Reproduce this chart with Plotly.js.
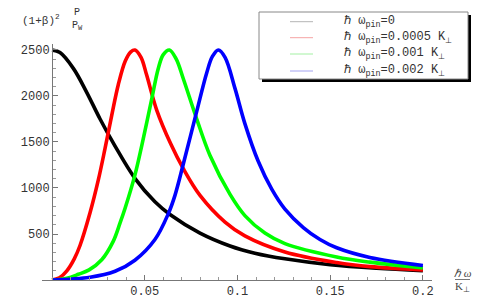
<!DOCTYPE html>
<html>
<head>
<meta charset="utf-8">
<script src="https://cdn.plot.ly/plotly-3.0.1.min.js"></script>
<style>html,body{margin:0;padding:0;background:#fff;}#chart{width:490px;height:303px;}</style>
</head>
<body>
<div id="chart"></div>
<script>
// ---- data ----
const blackW = [0, 0.0043, 0.0115, 0.0187, 0.0259, 0.034, 0.0447, 0.0555, 0.0636, 0.0798, 0.096, 0.1094, 0.1256, 0.15, 0.175, 0.2];
const blackV = [2500, 2472, 2300, 2040, 1750, 1455, 1105, 850, 712, 510, 370, 292, 230, 166, 127, 101];

const redW = [0, 0.004, 0.008, 0.012, 0.0151, 0.0205, 0.025, 0.0286, 0.0322, 0.0357, 0.0395, 0.0425, 0.0447, 0.048, 0.051, 0.0564, 0.064, 0.0708, 0.0798, 0.0933, 0.104, 0.1256, 0.1535, 0.1714, 0.2];
const redV = [0, 25, 100, 230, 375, 730, 1090, 1430, 1790, 2120, 2380, 2480, 2500, 2420, 2230, 1850, 1480, 1210, 920, 630, 480, 305, 190, 145, 110];

const greenW = [0, 0.008, 0.0142, 0.02, 0.0268, 0.033, 0.0367, 0.0394, 0.0447, 0.0484, 0.0537, 0.0573, 0.06, 0.0633, 0.067, 0.0708, 0.078, 0.0852, 0.096, 0.104, 0.1148, 0.1256, 0.1535, 0.1714, 0.2];
const greenV = [0, 20, 62, 110, 220, 420, 620, 780, 1140, 1460, 1960, 2300, 2450, 2500, 2400, 2187, 1752, 1353, 930, 700, 510, 395, 250, 194, 132];

const blueW = [0, 0.0205, 0.034, 0.0447, 0.0555, 0.0627, 0.0663, 0.0708, 0.078, 0.0834, 0.0865, 0.0897, 0.0933, 0.0987, 0.104, 0.1112, 0.1184, 0.1256, 0.1355, 0.1445, 0.1535, 0.1714, 0.2];
const blueV = [0, 30, 95, 215, 440, 720, 920, 1260, 1830, 2250, 2430, 2500, 2420, 2080, 1700, 1290, 990, 770, 570, 440, 350, 245, 158];

const xTickVals = [0.05, 0.1, 0.15, 0.2];
const xTickText = ["0.05", "0.1", "0.15", "0.2"];
const yTickVals = [500, 1000, 1500, 2000, 2500];
const yTickText = ["500", "1000", "1500", "2000", "2500"];

const legendLabels = [
  "\u210F \u03C9<sub>pin</sub>=0",
  "\u210F \u03C9<sub>pin</sub>=0.0005 K<sub>\u22A5</sub>",
  "\u210F \u03C9<sub>pin</sub>=0.001 K<sub>\u22A5</sub>",
  "\u210F \u03C9<sub>pin</sub>=0.002 K<sub>\u22A5</sub>"
];
const legendColors = ["#b4b4b4", "#f5a3a3", "#a3f0a3", "#a3a3f0"];

// ---- layout geometry (pixels) ----
const L = 42, T = 44, W = 390, H = 236;
const fx = x => (x - L) / W;
const fy = y => (T + H - y) / H;

const mono = "Liberation Mono";
const serif = "Liberation Serif";

function curve(x, y, color) {
  return {x: x, y: y, type: "scatter", mode: "lines",
    line: {color: color, width: 3.6, shape: "spline", smoothing: 1},
    hoverinfo: "skip", showlegend: false};
}

const data = [
  curve(blackW, blackV, "#000000"),
  curve(redW, redV, "#ff0000"),
  curve(greenW, greenV, "#00ff00"),
  curve(blueW, blueV, "#0000ff")
];

const shapes = [];
const annotations = [];

// legend box with shadow
shapes.push({type: "rect", xref: "paper", yref: "paper", x0: fx(262), x1: fx(471), y0: fy(15), y1: fy(82),
  fillcolor: "#000", line: {width: 0}, layer: "above"});
shapes.push({type: "rect", xref: "paper", yref: "paper", x0: fx(259), x1: fx(468), y0: fy(12), y1: fy(79),
  fillcolor: "#fff", line: {color: "#888", width: 1}, layer: "above"});
const rows = [21.7, 37.7, 54, 71];
legendLabels.forEach((t, i) => {
  shapes.push({type: "line", xref: "paper", yref: "paper", x0: fx(290), x1: fx(313), y0: fy(rows[i]), y1: fy(rows[i]),
    line: {color: legendColors[i], width: 1}, layer: "above"});
  annotations.push({xref: "paper", yref: "paper", x: fx(342), y: fy(rows[i]), xanchor: "left", yanchor: "middle",
    text: t, showarrow: false, font: {family: mono, size: 12, color: "#333"}});
});

// y label: (1+β)^2 P / P_W  -- the (1+β)^2 part is the layout title
annotations.push({xref: "paper", yref: "paper", x: fx(77), y: fy(13), xanchor: "center", yanchor: "middle",
  text: "P", showarrow: false, font: {family: mono, size: 10, color: "#333"}});
annotations.push({xref: "paper", yref: "paper", x: fx(77), y: fy(26), xanchor: "center", yanchor: "middle",
  text: "P<sub>W</sub>", showarrow: false, font: {family: mono, size: 10, color: "#333"}});

// x label: ħω / K⊥
annotations.push({xref: "paper", yref: "paper", x: fx(462.5), y: fy(273), xanchor: "center", yanchor: "middle",
  text: "<i>\u210F \u03C9</i>", showarrow: false, font: {family: serif, size: 11, color: "#444"}});
shapes.push({type: "line", xref: "paper", yref: "paper", x0: fx(455), x1: fx(470), y0: fy(279.5), y1: fy(279.5),
  line: {color: "#777", width: 1}});
annotations.push({xref: "paper", yref: "paper", x: fx(462.5), y: fy(287), xanchor: "center", yanchor: "middle",
  text: "K<sub>\u22A5</sub>", showarrow: false, font: {family: serif, size: 11, color: "#444"}});

const layout = {
  width: 490, height: 303,
  margin: {l: L, r: 490 - L - W, t: T, b: 303 - T - H, pad: 0},
  paper_bgcolor: "#fff", plot_bgcolor: "#fff",
  showlegend: false,
  title: {text: "(1+\u03B2)<sup>2</sup>", xref: "container", yref: "container",
    x: 22 / 490, y: 1 - 20 / 303, xanchor: "left", yanchor: "middle", pad: {t: 0, b: 0, l: 0, r: 0},
    font: {family: mono, size: 11, color: "#333"}},
  xaxis: {
    range: [-0.0054, 0.2049], showgrid: false, zeroline: false,
    showline: true, linecolor: "#777", linewidth: 1,
    ticks: "inside", ticklen: 5, tickcolor: "#777", tickwidth: 1,
    tickvals: xTickVals, ticktext: xTickText,
    tickfont: {family: mono, size: 12, color: "#333"},
    minor: {dtick: 0.01, tick0: 0, ticks: "inside", ticklen: 3, tickcolor: "#999", showgrid: false}
  },
  yaxis: {
    range: [0, 2565], showgrid: false, zeroline: false,
    anchor: "free", position: fx(52),
    showline: true, linecolor: "#777", linewidth: 1,
    ticks: "inside", ticklen: 5, tickcolor: "#777", tickwidth: 1,
    tickvals: yTickVals, ticktext: yTickText,
    tickfont: {family: mono, size: 12, color: "#333"},
    minor: {dtick: 100, tick0: 0, ticks: "inside", ticklen: 3, tickcolor: "#999", showgrid: false}
  },
  shapes: shapes,
  annotations: annotations
};

Plotly.newPlot("chart", data, layout, {staticPlot: true, displayModeBar: false});
</script>
</body>
</html>
